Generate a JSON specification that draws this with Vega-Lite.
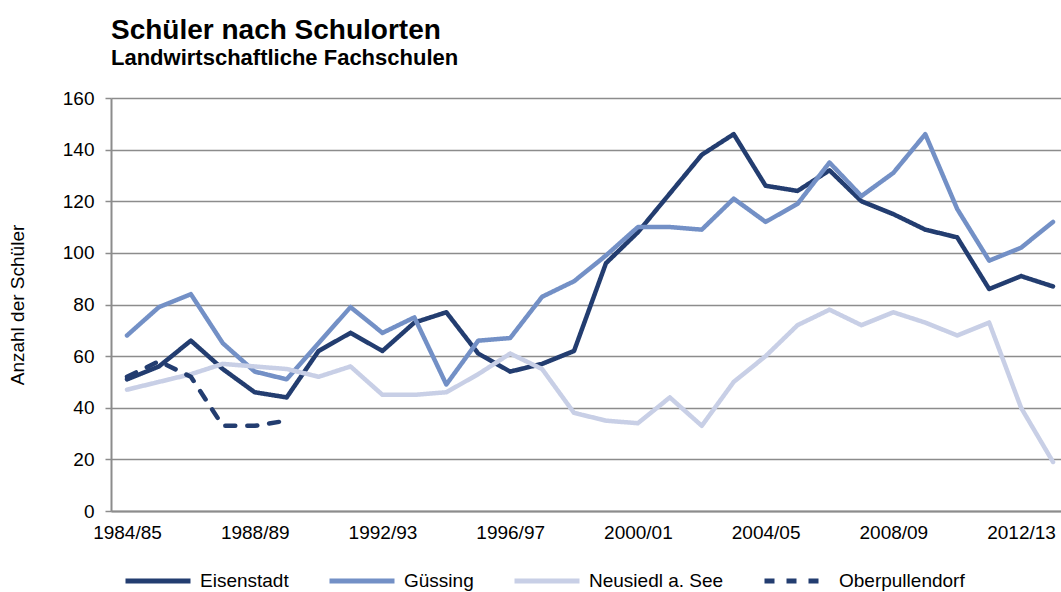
{
  "$schema": "https://vega.github.io/schema/vega-lite/v6.json",
  "width": 950,
  "height": 413,
  "autosize": {"type": "none"},
  "padding": {"left": 111, "top": 98, "right": 0, "bottom": 81},
  "background": "white",
  "title": {
    "text": "Schüler nach Schulorten",
    "subtitle": "Landwirtschaftliche Fachschulen",
    "anchor": "start",
    "frame": "group",
    "font": "Liberation Sans",
    "fontSize": 28,
    "fontWeight": "bold",
    "color": "#000000",
    "subtitleFont": "Liberation Sans",
    "subtitleFontSize": 22,
    "subtitleFontWeight": "bold",
    "subtitleColor": "#000000",
    "subtitlePadding": 3,
    "offset": 20
  },
  "data": {
    "values": [
      {"jahr": "1984/85", "ort": "Eisenstadt", "v": 51},
      {"jahr": "1985/86", "ort": "Eisenstadt", "v": 56},
      {"jahr": "1986/87", "ort": "Eisenstadt", "v": 66},
      {"jahr": "1987/88", "ort": "Eisenstadt", "v": 55},
      {"jahr": "1988/89", "ort": "Eisenstadt", "v": 46},
      {"jahr": "1989/90", "ort": "Eisenstadt", "v": 44},
      {"jahr": "1990/91", "ort": "Eisenstadt", "v": 62},
      {"jahr": "1991/92", "ort": "Eisenstadt", "v": 69},
      {"jahr": "1992/93", "ort": "Eisenstadt", "v": 62},
      {"jahr": "1993/94", "ort": "Eisenstadt", "v": 73},
      {"jahr": "1994/95", "ort": "Eisenstadt", "v": 77},
      {"jahr": "1995/96", "ort": "Eisenstadt", "v": 61},
      {"jahr": "1996/97", "ort": "Eisenstadt", "v": 54},
      {"jahr": "1997/98", "ort": "Eisenstadt", "v": 57},
      {"jahr": "1998/99", "ort": "Eisenstadt", "v": 62},
      {"jahr": "1999/00", "ort": "Eisenstadt", "v": 96},
      {"jahr": "2000/01", "ort": "Eisenstadt", "v": 108},
      {"jahr": "2001/02", "ort": "Eisenstadt", "v": 123},
      {"jahr": "2002/03", "ort": "Eisenstadt", "v": 138},
      {"jahr": "2003/04", "ort": "Eisenstadt", "v": 146},
      {"jahr": "2004/05", "ort": "Eisenstadt", "v": 126},
      {"jahr": "2005/06", "ort": "Eisenstadt", "v": 124},
      {"jahr": "2006/07", "ort": "Eisenstadt", "v": 132},
      {"jahr": "2007/08", "ort": "Eisenstadt", "v": 120},
      {"jahr": "2008/09", "ort": "Eisenstadt", "v": 115},
      {"jahr": "2009/10", "ort": "Eisenstadt", "v": 109},
      {"jahr": "2010/11", "ort": "Eisenstadt", "v": 106},
      {"jahr": "2011/12", "ort": "Eisenstadt", "v": 86},
      {"jahr": "2012/13", "ort": "Eisenstadt", "v": 91},
      {"jahr": "2013/14", "ort": "Eisenstadt", "v": 87},
      {"jahr": "1984/85", "ort": "Güssing", "v": 68},
      {"jahr": "1985/86", "ort": "Güssing", "v": 79},
      {"jahr": "1986/87", "ort": "Güssing", "v": 84},
      {"jahr": "1987/88", "ort": "Güssing", "v": 65},
      {"jahr": "1988/89", "ort": "Güssing", "v": 54},
      {"jahr": "1989/90", "ort": "Güssing", "v": 51},
      {"jahr": "1990/91", "ort": "Güssing", "v": 65},
      {"jahr": "1991/92", "ort": "Güssing", "v": 79},
      {"jahr": "1992/93", "ort": "Güssing", "v": 69},
      {"jahr": "1993/94", "ort": "Güssing", "v": 75},
      {"jahr": "1994/95", "ort": "Güssing", "v": 49},
      {"jahr": "1995/96", "ort": "Güssing", "v": 66},
      {"jahr": "1996/97", "ort": "Güssing", "v": 67},
      {"jahr": "1997/98", "ort": "Güssing", "v": 83},
      {"jahr": "1998/99", "ort": "Güssing", "v": 89},
      {"jahr": "1999/00", "ort": "Güssing", "v": 99},
      {"jahr": "2000/01", "ort": "Güssing", "v": 110},
      {"jahr": "2001/02", "ort": "Güssing", "v": 110},
      {"jahr": "2002/03", "ort": "Güssing", "v": 109},
      {"jahr": "2003/04", "ort": "Güssing", "v": 121},
      {"jahr": "2004/05", "ort": "Güssing", "v": 112},
      {"jahr": "2005/06", "ort": "Güssing", "v": 119},
      {"jahr": "2006/07", "ort": "Güssing", "v": 135},
      {"jahr": "2007/08", "ort": "Güssing", "v": 122},
      {"jahr": "2008/09", "ort": "Güssing", "v": 131},
      {"jahr": "2009/10", "ort": "Güssing", "v": 146},
      {"jahr": "2010/11", "ort": "Güssing", "v": 117},
      {"jahr": "2011/12", "ort": "Güssing", "v": 97},
      {"jahr": "2012/13", "ort": "Güssing", "v": 102},
      {"jahr": "2013/14", "ort": "Güssing", "v": 112},
      {"jahr": "1984/85", "ort": "Neusiedl a. See", "v": 47},
      {"jahr": "1985/86", "ort": "Neusiedl a. See", "v": 50},
      {"jahr": "1986/87", "ort": "Neusiedl a. See", "v": 53},
      {"jahr": "1987/88", "ort": "Neusiedl a. See", "v": 57},
      {"jahr": "1988/89", "ort": "Neusiedl a. See", "v": 56},
      {"jahr": "1989/90", "ort": "Neusiedl a. See", "v": 55},
      {"jahr": "1990/91", "ort": "Neusiedl a. See", "v": 52},
      {"jahr": "1991/92", "ort": "Neusiedl a. See", "v": 56},
      {"jahr": "1992/93", "ort": "Neusiedl a. See", "v": 45},
      {"jahr": "1993/94", "ort": "Neusiedl a. See", "v": 45},
      {"jahr": "1994/95", "ort": "Neusiedl a. See", "v": 46},
      {"jahr": "1995/96", "ort": "Neusiedl a. See", "v": 53},
      {"jahr": "1996/97", "ort": "Neusiedl a. See", "v": 61},
      {"jahr": "1997/98", "ort": "Neusiedl a. See", "v": 55},
      {"jahr": "1998/99", "ort": "Neusiedl a. See", "v": 38},
      {"jahr": "1999/00", "ort": "Neusiedl a. See", "v": 35},
      {"jahr": "2000/01", "ort": "Neusiedl a. See", "v": 34},
      {"jahr": "2001/02", "ort": "Neusiedl a. See", "v": 44},
      {"jahr": "2002/03", "ort": "Neusiedl a. See", "v": 33},
      {"jahr": "2003/04", "ort": "Neusiedl a. See", "v": 50},
      {"jahr": "2004/05", "ort": "Neusiedl a. See", "v": 60},
      {"jahr": "2005/06", "ort": "Neusiedl a. See", "v": 72},
      {"jahr": "2006/07", "ort": "Neusiedl a. See", "v": 78},
      {"jahr": "2007/08", "ort": "Neusiedl a. See", "v": 72},
      {"jahr": "2008/09", "ort": "Neusiedl a. See", "v": 77},
      {"jahr": "2009/10", "ort": "Neusiedl a. See", "v": 73},
      {"jahr": "2010/11", "ort": "Neusiedl a. See", "v": 68},
      {"jahr": "2011/12", "ort": "Neusiedl a. See", "v": 73},
      {"jahr": "2012/13", "ort": "Neusiedl a. See", "v": 40},
      {"jahr": "2013/14", "ort": "Neusiedl a. See", "v": 19},
      {"jahr": "1984/85", "ort": "Oberpullendorf", "v": 52},
      {"jahr": "1985/86", "ort": "Oberpullendorf", "v": 58},
      {"jahr": "1986/87", "ort": "Oberpullendorf", "v": 52},
      {"jahr": "1987/88", "ort": "Oberpullendorf", "v": 33},
      {"jahr": "1988/89", "ort": "Oberpullendorf", "v": 33},
      {"jahr": "1989/90", "ort": "Oberpullendorf", "v": 35}
    ]
  },
  "mark": {"type": "line", "strokeWidth": 4.5, "strokeCap": "round", "strokeJoin": "round"},
  "encoding": {
    "x": {
      "field": "jahr",
      "type": "ordinal",
      "sort": null,
      "scale": {"type": "point", "padding": 0.3758, "align": 0.667},
      "axis": {
        "title": null,
        "values": ["1984/85", "1988/89", "1992/93", "1996/97", "2000/01", "2004/05", "2008/09", "2012/13"],
        "labelAngle": 0,
        "labelFont": "Liberation Sans",
        "labelFontSize": 19,
        "labelColor": "#000000",
        "labelPadding": 12,
        "ticks": false,
        "domainColor": "#8c8c8c",
        "domainWidth": 2,
        "grid": false
      }
    },
    "y": {
      "field": "v",
      "type": "quantitative",
      "scale": {"domain": [0, 160], "nice": false},
      "axis": {
        "title": "Anzahl der Schüler",
        "titleFont": "Liberation Sans",
        "titleFontSize": 19,
        "titleFontWeight": "normal",
        "titleColor": "#000000",
        "titlePadding": 35,
        "values": [0, 20, 40, 60, 80, 100, 120, 140, 160],
        "labelFont": "Liberation Sans",
        "labelFontSize": 19,
        "labelColor": "#000000",
        "labelPadding": 11,
        "tickSize": 6,
        "tickColor": "#8c8c8c",
        "tickWidth": 1.5,
        "domainColor": "#8c8c8c",
        "domainWidth": 2,
        "grid": true,
        "gridColor": "#8c8c8c",
        "gridWidth": 1.5
      }
    },
    "color": {
      "field": "ort",
      "type": "nominal",
      "scale": {
        "domain": ["Eisenstadt", "Güssing", "Neusiedl a. See", "Oberpullendorf"],
        "range": ["#233d70", "#7390c6", "#c8cfe6", "#233d70"]
      },
      "legend": {
        "title": null,
        "orient": "none",
        "direction": "horizontal",
        "columns": 4,
        "legendX": 12,
        "legendY": 448,
        "padding": 0,
        "symbolType": "stroke",
        "symbolSize": 4225,
        "symbolStrokeWidth": 5,
        "labelFont": "Liberation Sans",
        "labelFontSize": 19,
        "labelColor": "#000000",
        "labelOffset": 7,
        "columnPadding": 30,
        "labelLimit": 300
      }
    },
    "strokeDash": {
      "field": "ort",
      "type": "nominal",
      "scale": {
        "domain": ["Eisenstadt", "Güssing", "Neusiedl a. See", "Oberpullendorf"],
        "range": [[1, 0], [1, 0], [1, 0], [10, 12]]
      },
      "legend": null
    }
  },
  "config": {
    "view": {"stroke": null}
  }
}
